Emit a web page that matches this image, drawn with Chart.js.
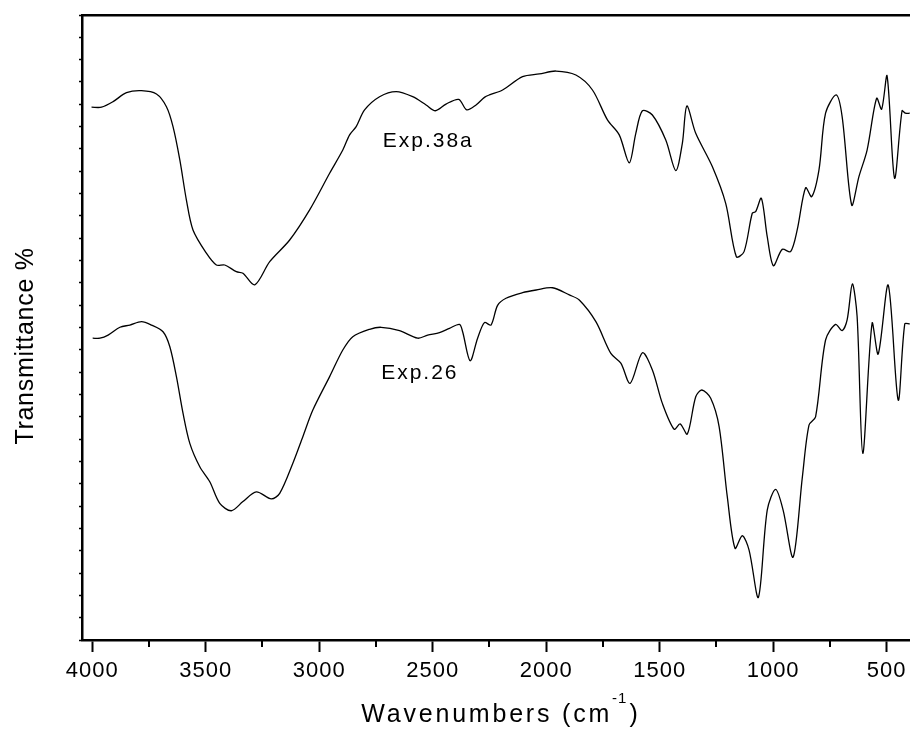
<!DOCTYPE html>
<html>
<head>
<meta charset="utf-8">
<script src="https://cdn.jsdelivr.net/npm/chart.js@4.4.1/dist/chart.umd.min.js"></script>
<style>
  html, body { margin: 0; padding: 0; background: #fff; }
  #irChart { display: block; }
</style>
</head>
<body>
<canvas id="irChart" width="911" height="736"></canvas>
<script>
// IR spectra (wavenumber in cm-1, transmittance in offset units)
const wn38a = [4003, 3959, 3908, 3849, 3783, 3717, 3673, 3644, 3614, 3585,
    3556, 3497, 3453, 3416, 3365, 3336, 3284, 3218, 3130, 3042,
    2954, 2896, 2866, 2837, 2800, 2734, 2661, 2588, 2529, 2488,
    2441, 2385, 2350, 2309, 2272, 2250, 2192, 2104, 2030, 1957,
    1869, 1796, 1730, 1678, 1634, 1605, 1576, 1532, 1473, 1429,
    1400, 1380, 1341, 1268, 1209, 1162, 1128, 1092, 1077, 1052,
    1026, 999, 960, 923, 894, 857, 830, 798, 769, 722,
    696, 654, 622, 586, 544, 522, 498, 465, 432, 417, 398];
const t38a = [23.87, 23.87, 24.12, 24.52, 24.61, 24.46, 23.89, 23.00, 21.51, 19.71,
    18.37, 17.33, 16.80, 16.80, 16.50, 16.43, 15.91, 16.95, 17.92, 19.27,
    20.91, 21.95, 22.63, 23.00, 23.75, 24.34, 24.57, 24.34, 23.97, 23.71,
    24.01, 24.22, 23.75, 23.97, 24.31, 24.42, 24.64, 25.24, 25.36, 25.49,
    25.31, 24.64, 23.30, 22.63, 21.38, 22.70, 23.71, 23.52, 22.40, 21.03,
    22.25, 23.92, 22.70, 21.21, 19.56, 17.17, 17.40, 19.12, 19.19, 19.79,
    18.07, 16.77, 17.50, 17.40, 18.37, 20.26, 19.86, 21.06, 23.60, 24.42,
    23.45, 19.49, 20.76, 21.95, 24.27, 23.78, 25.27, 20.69, 23.71, 23.60, 23.60];

const wn26 = [3998, 3966, 3930, 3878, 3834, 3783, 3739, 3688, 3658, 3629,
    3600, 3570, 3526, 3482, 3438, 3387, 3336, 3277, 3211, 3174,
    3116, 3072, 3028, 2954, 2896, 2852, 2778, 2727, 2646, 2566,
    2522, 2470, 2426, 2382, 2368, 2335, 2302, 2272, 2243, 2214,
    2177, 2104, 2044, 1972, 1898, 1854, 1781, 1715, 1671, 1630,
    1576, 1532, 1488, 1436, 1410, 1378, 1341, 1314, 1275, 1238,
    1202, 1168, 1136, 1106, 1065, 1026, 989, 956, 912, 871,
    842, 813, 769, 725, 696, 674, 651, 630, 605, 564,
    537, 493, 449, 420, 398];
const t26 = [13.52, 13.52, 13.66, 14.01, 14.11, 14.26, 14.11, 13.81, 13.14, 11.80,
    10.16, 8.81, 7.76, 7.09, 6.12, 5.79, 6.20, 6.64, 6.32, 6.57,
    7.92, 9.11, 10.30, 11.80, 12.99, 13.59, 13.92, 14.01, 13.86, 13.52,
    13.66, 13.77, 13.96, 14.14, 13.81, 12.51, 13.52, 14.22, 14.11, 14.99,
    15.31, 15.56, 15.68, 15.78, 15.46, 15.23, 14.26, 12.84, 12.40, 11.50,
    12.87, 12.10, 10.60, 9.44, 9.68, 9.23, 10.90, 11.20, 10.83, 9.56,
    6.42, 4.11, 4.67, 4.03, 1.91, 5.82, 6.75, 5.82, 3.71, 7.32,
    9.63, 10.00, 13.44, 14.14, 13.86, 14.34, 15.95, 14.49, 8.36, 14.19,
    12.81, 15.90, 10.75, 14.16, 14.16];

const seriesNames = ['Exp.38a', 'Exp.26'];
const xTickValues = [4000, 3500, 3000, 2500, 2000, 1500, 1000, 500];
const xMinorTicks = [3750, 3250, 2750, 2250, 1750, 1250, 750];
const xMin = 397, xMax = 4045;
const yMin = 0, yMax = 28;

const FONT = "'Liberation Sans', Arial, sans-serif";
Chart.defaults.font.family = FONT;
Chart.defaults.color = '#000';

function toPoints(xs, ys) {
    return xs.map((v, i) => ({ x: v, y: ys[i] }));
}

// titles, curve labels and the short minor ticks
const decorations = {
    id: 'decorations',
    beforeDraw(chart) {
        chart.ctx.letterSpacing = '1px';
    },
    afterDraw(chart) {
        const { ctx, chartArea, scales } = chart;
        const x = scales.x, y = scales.y;
        ctx.save();
        ctx.fillStyle = '#000';
        ctx.strokeStyle = '#000';

        // minor ticks under the x axis
        ctx.lineWidth = 2;
        xMinorTicks.forEach(v => {
            const px = Math.round(x.getPixelForValue(v));
            ctx.beginPath();
            ctx.moveTo(px, chartArea.bottom + 1);
            ctx.lineTo(px, chartArea.bottom + 7);
            ctx.stroke();
        });

        // curve labels
        ctx.font = '21px ' + FONT;
        ctx.letterSpacing = '2px';
        ctx.textAlign = 'left';
        ctx.textBaseline = 'alphabetic';
        ctx.fillText(seriesNames[0], x.getPixelForValue(2720), y.getPixelForValue(22.1));
        ctx.fillText(seriesNames[1], x.getPixelForValue(2727), y.getPixelForValue(11.68));

        // y title
        ctx.save();
        ctx.font = '25px ' + FONT;
        ctx.letterSpacing = '0.7px';
        ctx.translate(33, 346);
        ctx.rotate(-Math.PI / 2);
        ctx.textAlign = 'center';
        ctx.fillText('Transmittance %', 0, 0);
        ctx.restore();

        // x title with superscript
        const base = 722;
        ctx.font = '25px ' + FONT;
        ctx.letterSpacing = '2.8px';
        const p1 = 'Wavenumbers (cm';
        const w1 = ctx.measureText(p1).width;
        ctx.font = '15px ' + FONT;
        ctx.letterSpacing = '1px';
        const w2 = ctx.measureText('-1').width;
        ctx.font = '25px ' + FONT;
        const w3 = ctx.measureText(')').width;
        const total = w1 + w2 + 2 + w3;
        let sx = (chartArea.left + chartArea.right) / 2 + 4 - total / 2;
        ctx.letterSpacing = '2.8px';
        ctx.fillText(p1, sx, base);
        sx += w1;
        ctx.font = '15px ' + FONT;
        ctx.letterSpacing = '1px';
        ctx.fillText('-1', sx, base - 19);
        sx += w2 + 2;
        ctx.font = '25px ' + FONT;
        ctx.letterSpacing = '0px';
        ctx.fillText(')', sx, base);

        ctx.restore();
    }
};

new Chart(document.getElementById('irChart'), {
    type: 'line',
    data: {
        datasets: [
            {
                label: seriesNames[0],
                data: toPoints(wn38a, t38a),
                borderColor: '#000',
                borderWidth: 1.3,
                pointRadius: 0,
                tension: 0.3,
                fill: false
            },
            {
                label: seriesNames[1],
                data: toPoints(wn26, t26),
                borderColor: '#000',
                borderWidth: 1.3,
                pointRadius: 0,
                tension: 0.3,
                fill: false
            }
        ]
    },
    options: {
        responsive: false,
        animation: false,
        devicePixelRatio: 1,
        layout: { padding: 0 },
        plugins: {
            legend: { display: false },
            tooltip: { enabled: false }
        },
        scales: {
            x: {
                type: 'linear',
                position: 'bottom',
                reverse: true,
                min: xMin,
                max: xMax,
                afterBuildTicks: (scale) => {
                    scale.ticks = xTickValues.map(v => ({ value: v }));
                },
                afterFit: (scale) => { scale.height = 96; },
                border: { display: true, color: '#000', width: 2.5 },
                grid: {
                    drawOnChartArea: false,
                    drawTicks: true,
                    tickLength: 12,
                    tickWidth: 2,
                    tickColor: '#000'
                },
                ticks: {
                    font: { size: 22 },
                    color: '#000',
                    padding: 6,
                    maxRotation: 0,
                    autoSkip: false,
                    callback: (v) => String(v)
                }
            },
            xTop: {
                type: 'linear',
                position: 'top',
                reverse: true,
                min: xMin,
                max: xMax,
                afterFit: (scale) => { scale.height = 15; },
                border: { display: true, color: '#000', width: 2.5 },
                grid: { drawOnChartArea: false, drawTicks: false },
                ticks: { display: false }
            },
            y: {
                type: 'linear',
                position: 'left',
                min: yMin,
                max: yMax,
                afterFit: (scale) => { scale.width = 82; },
                border: { display: true, color: '#000', width: 2.5 },
                grid: {
                    drawOnChartArea: false,
                    drawTicks: true,
                    tickLength: 3,
                    tickWidth: 1.5,
                    tickColor: '#000'
                },
                ticks: { display: false, stepSize: 1 }
            }
        }
    },
    plugins: [decorations]
});
</script>
</body>
</html>
